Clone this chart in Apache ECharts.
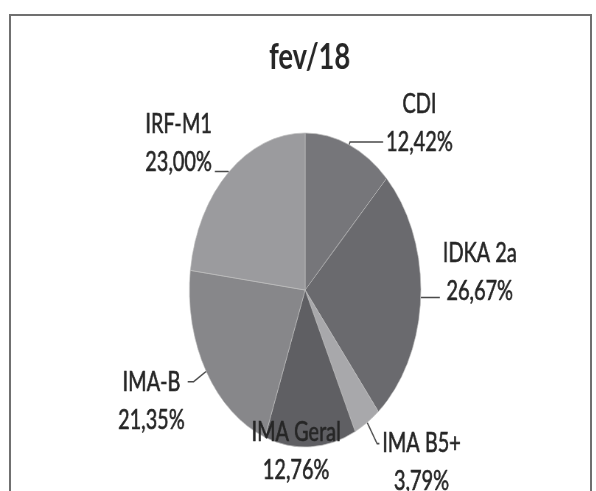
<!DOCTYPE html>
<html>
<head>
<meta charset="utf-8">
<script src="https://cdn.jsdelivr.net/npm/echarts@6/dist/echarts.min.js"></script>
<style>
html,body{margin:0;padding:0;background:#fff;overflow:hidden;width:596px;height:491px;}
#frame{position:absolute;left:9px;top:14px;width:579px;height:490px;border:2px solid #707070;border-bottom:none;}
#chart{position:absolute;left:0;top:0;width:809px;height:491px;transform:scaleX(0.737);transform-origin:0 0;}
</style>
</head>
<body>
<div id="frame"></div>
<div id="chart"></div>
<script>
// ---- data ----
const chartTitle = 'fev/18';
const categories = ['CDI', 'IDKA 2a', 'IMA B5+', 'IMA Geral', 'IMA-B', 'IRF-M1'];
const values = [12.42, 26.67, 3.79, 12.76, 21.35, 23.00];

// ---- styles ----
const colors = ['#76767a', '#6a6a6e', '#a8a8ab', '#5f5f63', '#87878a', '#9b9b9e'];
const labelPads = [[0,0,38,0],[0,0,50,0],[38,0,0,0],[160,32,0,0],[38,0,0,0],[0,0,56,0]];
const lineLens = [[3,45],[2,24],[25,3],[0,0],[20,8],[1,18]];
const labelPos = ['outside','outside','outside','inside','outside','outside'];

const textColor = '#262626';
const fontFam = 'Lato, "DejaVu Sans", sans-serif';

function fmt(v) { return v.toFixed(2).replace('.', ',') + '%'; }

const seriesData = categories.map((name, i) => ({
  name: name,
  value: values[i],
  itemStyle: { color: colors[i] },
  label: { position: labelPos[i], padding: labelPads[i] },
  labelLine: { show: labelPos[i] === 'outside', length: lineLens[i][0], length2: lineLens[i][1] }
}));

const chart = echarts.init(document.getElementById('chart'), null, { renderer: 'canvas' });
chart.setOption({
  animation: false,
  backgroundColor: 'transparent',
  title: {
    text: chartTitle,
    left: 415,
    textAlign: 'center',
    top: 34,
    textStyle: { fontFamily: fontFam, fontSize: 37, fontWeight: 'bold', color: textColor }
  },
  series: [{
    type: 'pie',
    center: [414, 290],
    radius: 157,
    startAngle: 90,
    clockwise: true,
    avoidLabelOverlap: false,
    itemStyle: { borderColor: 'rgba(190,190,190,0.7)', borderWidth: 1 },
    label: {
      show: true,
      distanceToLabelLine: 4,
      formatter: p => '{c|' + p.name + '}\n{c|' + fmt(p.value) + '}',
      rich: {
        c: { align: 'center', fontFamily: fontFam, fontSize: 27, lineHeight: 38, color: textColor,
             textBorderColor: textColor, textBorderWidth: 0.6 }
      }
    },
    labelLine: {
      lineStyle: { color: '#4a4a4a', width: 1.6 }
    },
    emphasis: { disabled: true },
    data: seriesData
  }]
});
</script>
</body>
</html>
